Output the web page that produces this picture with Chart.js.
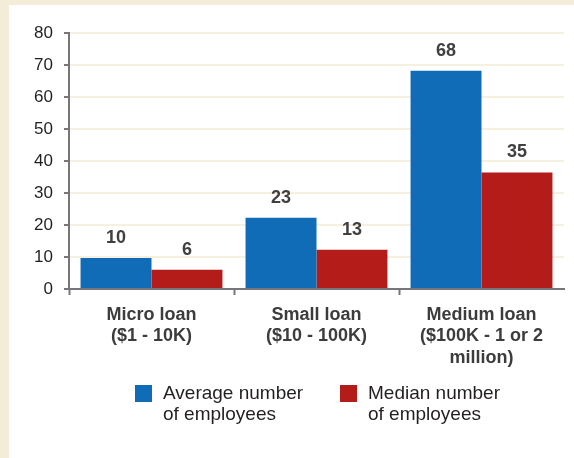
<!DOCTYPE html>
<html>
<head>
<meta charset="utf-8">
<script src="https://cdn.jsdelivr.net/npm/chart.js@4"></script>
<style>
  html, body { margin: 0; padding: 0; background: #f3ecd8; }
  #wrap { width: 574px; height: 458px; position: relative; }
</style>
</head>
<body>
<div id="wrap"><canvas id="c" width="574" height="458"></canvas></div>
<script>
// ---- data ----
const categories = [
  ["Micro loan", "($1 - 10K)"],
  ["Small loan", "($10 - 100K)"],
  ["Medium loan", "($100K - 1 or 2", "million)"]
];
const seriesNames = [
  ["Average number", "of employees"],
  ["Median number", "of employees"]
];
const averageEmployees = [9.7, 22.3, 68.2];
const medianEmployees = [6, 12.3, 36.4];
const averageLabels = ["10", "23", "68"];
const medianLabels = ["6", "13", "35"];
const yTicks = [0, 10, 20, 30, 40, 50, 60, 70, 80];

const FONT = "'Liberation Sans', Arial, sans-serif";
const BLUE = "#106cb6";
const RED = "#b41c1a";
const AXIS = "#77777b";
const GRID = "#f6f0df";

const bgPlugin = {
  id: "bg",
  beforeDraw(chart) {
    const ctx = chart.ctx;
    ctx.save();
    ctx.fillStyle = "#f3ecd8";
    ctx.fillRect(0, 0, chart.width, chart.height);
    ctx.fillStyle = "#ffffff";
    ctx.fillRect(9, 5, chart.width - 9, chart.height - 5);
    ctx.restore();
  }
};

const valueLabelPlugin = {
  id: "valueLabels",
  afterDatasetsDraw(chart) {
    const ctx = chart.ctx;
    ctx.save();
    ctx.font = "bold 18px " + FONT;
    ctx.fillStyle = "#404040";
    ctx.textAlign = "center";
    ctx.textBaseline = "middle";
    chart.data.datasets.forEach((ds, di) => {
      const meta = chart.getDatasetMeta(di);
      meta.data.forEach((bar, i) => {
        ctx.fillText(ds.valueLabels[i], bar.x, bar.y - 20);
      });
    });
    ctx.restore();
  }
};

const legendPlugin = {
  id: "customLegend",
  afterDraw(chart) {
    const ctx = chart.ctx;
    const boxX = [135, 340];
    const top = 385;
    ctx.save();
    ctx.font = "19px " + FONT;
    ctx.textBaseline = "alphabetic";
    ctx.textAlign = "left";
    chart.data.datasets.forEach((ds, i) => {
      ctx.fillStyle = ds.backgroundColor;
      ctx.fillRect(boxX[i], top, 17, 17);
      ctx.fillStyle = "#231f20";
      ds.label.forEach((line, j) => {
        ctx.fillText(line, boxX[i] + 28, top + 14 + j * 21);
      });
    });
    ctx.restore();
  }
};

new Chart(document.getElementById("c"), {
  type: "bar",
  data: {
    labels: categories,
    datasets: [
      { label: seriesNames[0], data: averageEmployees, valueLabels: averageLabels, backgroundColor: BLUE },
      { label: seriesNames[1], data: medianEmployees, valueLabels: medianLabels, backgroundColor: RED }
    ]
  },
  options: {
    responsive: false,
    animation: false,
    devicePixelRatio: 1,
    layout: { padding: { left: 0, right: 10, top: 33, bottom: 0 } },
    datasets: { bar: { categoryPercentage: 0.86, barPercentage: 1.0 } },
    plugins: { legend: { display: false }, tooltip: { enabled: false } },
    scales: {
      x: {
        grid: {
          offset: true,
          drawOnChartArea: false,
          drawTicks: true,
          tickLength: 6,
          tickWidth: 2,
          tickColor: (c) => (c.index === undefined ? "rgba(0,0,0,0)" : AXIS)
        },
        border: { display: true, color: AXIS, width: 2 },
        ticks: {
          padding: 9,
          color: "#3c3c3c",
          font: { family: FONT, size: 18, weight: "bold", lineHeight: 1.2 },
          maxRotation: 0,
          autoSkip: false
        },
        afterFit(scale) { scale.height = 169; }
      },
      y: {
        min: 0,
        max: 80,
        afterBuildTicks(scale) { scale.ticks = yTicks.map(v => ({ value: v })); },
        grid: {
          color: GRID,
          lineWidth: 2,
          drawTicks: true,
          tickLength: 5,
          tickWidth: 2,
          tickColor: AXIS
        },
        border: { display: true, color: AXIS, width: 2 },
        ticks: {
          padding: 11,
          color: "#231f20",
          font: { family: FONT, size: 17 }
        },
        afterFit(scale) { scale.width = 69; }
      }
    }
  },
  plugins: [bgPlugin, valueLabelPlugin, legendPlugin]
});
</script>
</body>
</html>
